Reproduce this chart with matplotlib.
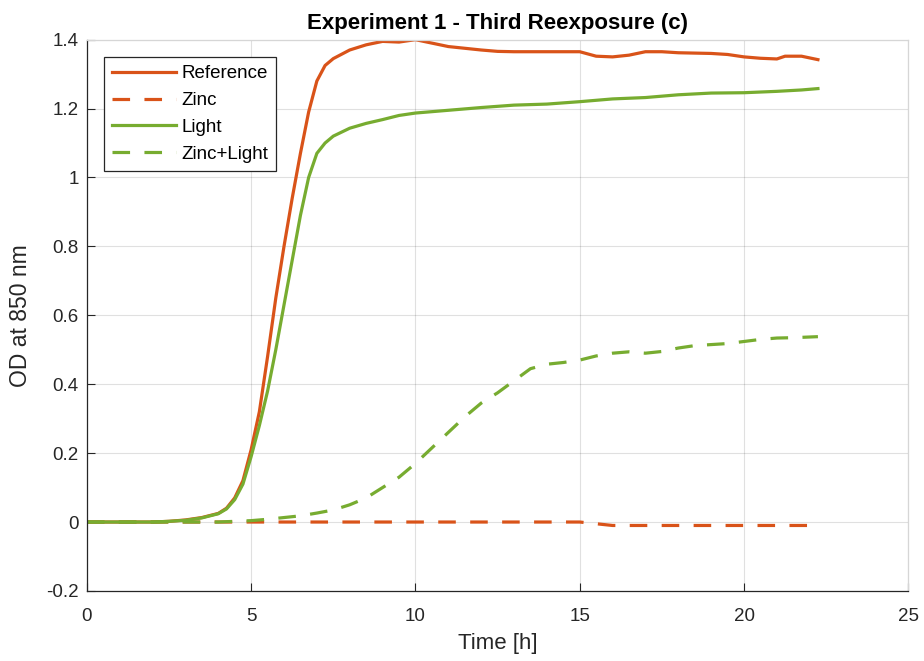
import matplotlib
matplotlib.use("Agg")
import matplotlib.pyplot as plt

plt.rcParams['font.family'] = ['Liberation Sans', 'DejaVu Sans']

# Growth curves (OD at 850 nm over time)
ref_t = [0, 0.5, 1, 1.5, 2, 2.5, 3, 3.5, 4, 4.25, 4.5, 4.75, 5, 5.25, 5.5, 5.75,
         6, 6.25, 6.5, 6.75, 7, 7.25, 7.5, 8, 8.5, 9, 9.5, 10, 10.5, 11, 11.5,
         12, 12.5, 13, 14, 15, 15.5, 16, 16.5, 17, 17.5, 18, 19, 19.5, 20, 20.5,
         21, 21.25, 21.75, 22.25]
ref_od = [0, 0, 0, 0, 0, 0.002, 0.006, 0.013, 0.025, 0.04, 0.07, 0.12, 0.21, 0.32,
          0.48, 0.65, 0.8, 0.94, 1.07, 1.19, 1.28, 1.325, 1.345, 1.37, 1.385, 1.395,
          1.393, 1.4, 1.39, 1.38, 1.375, 1.37, 1.366, 1.365, 1.365, 1.365, 1.352,
          1.35, 1.355, 1.365, 1.365, 1.362, 1.36, 1.357, 1.35, 1.346, 1.344, 1.352,
          1.352, 1.342]

zinc_t = [0, 2, 4, 6, 8, 10, 12, 14, 15, 15.5, 16, 17, 18, 19, 20, 21, 22.25]
zinc_od = [0, 0, 0, 0, 0, 0, 0, 0, 0, -0.005, -0.01, -0.01, -0.01, -0.01, -0.01,
           -0.01, -0.01]

light_t = [0, 0.5, 1, 1.5, 2, 2.5, 3, 3.5, 4, 4.25, 4.5, 4.75, 5, 5.25, 5.5, 5.75,
           6, 6.25, 6.5, 6.75, 7, 7.25, 7.5, 8, 8.5, 9, 9.5, 10, 11, 12, 13, 14,
           15, 16, 17, 18, 19, 20, 21, 21.75, 22.25]
light_od = [0, 0, 0, 0, 0, 0.002, 0.005, 0.012, 0.024, 0.038, 0.065, 0.11, 0.19,
            0.28, 0.38, 0.5, 0.63, 0.76, 0.89, 1.0, 1.07, 1.1, 1.12, 1.143, 1.157,
            1.168, 1.18, 1.187, 1.195, 1.203, 1.21, 1.213, 1.22, 1.228, 1.232,
            1.24, 1.245, 1.246, 1.25, 1.254, 1.258]

zl_t = [0, 1, 2, 3, 4, 4.5, 5, 5.5, 6, 6.5, 7, 7.5, 8, 8.5, 9, 9.5, 10, 10.5, 11,
        11.5, 12, 12.5, 13, 13.5, 14, 14.5, 15, 15.5, 16, 16.5, 17, 17.5, 18,
        18.5, 19, 19.5, 20, 20.5, 21, 21.5, 22.25]
zl_od = [0, 0, 0, 0, 0, 0.002, 0.004, 0.008, 0.013, 0.018, 0.026, 0.035, 0.05,
         0.07, 0.1, 0.13, 0.17, 0.215, 0.26, 0.305, 0.345, 0.375, 0.41, 0.445,
         0.458, 0.463, 0.47, 0.482, 0.49, 0.494, 0.49, 0.495, 0.505, 0.512,
         0.515, 0.518, 0.524, 0.53, 0.534, 0.535, 0.538]

series_names = ["Reference", "Zinc", "Light", "Zinc+Light"]
x_ticks = [0, 5, 10, 15, 20, 25]
y_ticks = [-0.2, 0, 0.2, 0.4, 0.6, 0.8, 1, 1.2, 1.4]
y_tick_labels = ["-0.2", "0", "0.2", "0.4", "0.6", "0.8", "1", "1.2", "1.4"]

ORANGE = "#D95319"
GREEN = "#77AC30"
DASH = (0, (5.5, 4.5))
LW = 2.3
DARK = "#262626"

fig = plt.figure(figsize=(9.24, 6.61), dpi=100)
ax = fig.add_axes([0.094, 0.106, 0.889, 0.834])

ax.plot(ref_t, ref_od, color=ORANGE, lw=LW, label=series_names[0])
ax.plot(zinc_t, zinc_od, color=ORANGE, lw=LW, ls=DASH, label=series_names[1])
ax.plot(light_t, light_od, color=GREEN, lw=LW, label=series_names[2])
ax.plot(zl_t, zl_od, color=GREEN, lw=LW, ls=DASH, label=series_names[3])

ax.set_xlim(0, 25)
ax.set_ylim(-0.2, 1.4)
ax.set_xticks(x_ticks)
ax.set_yticks(y_ticks)
ax.set_yticklabels(y_tick_labels)
ax.grid(True, color="#000000", alpha=0.12, lw=0.8)
ax.set_axisbelow(True)

ax.tick_params(direction="in", length=6, width=0.8, colors=DARK,
               labelsize=13.5, top=False, right=False)
ax.tick_params(axis="x", pad=12)
ax.tick_params(axis="y", pad=6)
for side in ("left", "bottom"):
    ax.spines[side].set_color(DARK)
    ax.spines[side].set_linewidth(0.9)
for side in ("top", "right"):
    ax.spines[side].set_color("#d6d6d6")
    ax.spines[side].set_linewidth(0.9)

ax.set_xlabel("Time [h]", fontsize=16, color=DARK, labelpad=6)
ax.set_ylabel("OD at 850 nm", fontsize=16.5, color=DARK, labelpad=10)
ax.set_title("Experiment 1 - Third Reexposure (c)", fontsize=16,
             fontweight="bold", color="#000000", pad=8)

leg = ax.legend(loc="upper left", bbox_to_anchor=(0.0207, 0.969),
                fontsize=13.5, handlelength=3.4, handletextpad=0.27,
                labelspacing=0.52, borderpad=0.45, borderaxespad=0,
                fancybox=False, framealpha=1, edgecolor=DARK)
leg.get_frame().set_linewidth(0.9)

fig.savefig("out.png", dpi=100)
